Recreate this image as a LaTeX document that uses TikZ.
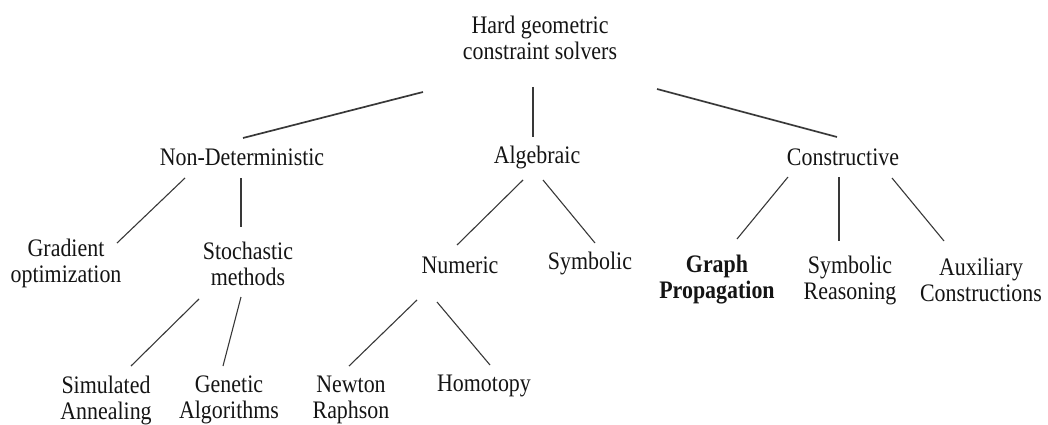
\documentclass[tikz,border=0pt]{standalone}
\usepackage{fontspec}
\setmainfont{Liberation Serif}[FakeStretch=0.87]
\definecolor{ink}{HTML}{141414}
\definecolor{edge}{HTML}{383838}
\tikzset{
  lbl/.style={inner sep=0pt, align=center, text=ink, font=\fontsize{25.2}{26}\selectfont},
  conn/.style={draw=edge, line width=1.1pt},
  thick conn/.style={draw=edge, line width=1.7pt},
}
\begin{document}
\begin{tikzpicture}[x=1pt,y=-1pt]
\useasboundingbox (0,0) rectangle (1048,425);
% nodes
\node[lbl] (root) at (540,37.5) {Hard geometric\\constraint solvers};
\node[lbl] (nd)   at (242,157) {Non-Deterministic};
\node[lbl] (alg)  at (537,157) {Algebraic};
\node[lbl] (con)  at (843,157) {Constructive};
\node[lbl] (grad) at (66,263.5) {Gradient\\optimization};
\node[lbl] (sto)  at (248,263.5) {Stochastic\\methods};
\node[lbl] (num)  at (460,265) {Numeric};
\node[lbl] (sym)  at (590,263) {Symbolic};
\node[lbl,font=\fontsize{25.2}{26}\selectfont\bfseries] (gp) at (717,279.5) {Graph\\Propagation};
\node[lbl] (sr)   at (850,280) {Symbolic\\Reasoning};
\node[lbl] (aux)  at (981,280) {Auxiliary\\Constructions};
\node[lbl] (sa)   at (106,400) {Simulated\\Annealing};
\node[lbl] (ga)   at (229,400) {Genetic\\Algorithms};
\node[lbl] (nr)   at (351,400) {Newton\\Raphson};
\node[lbl] (ho)   at (484,386) {Homotopy};
% connectors
\draw[thick conn] ([shift={(-117,54.5)}]root.center) -- ([shift={(1,-19)}]nd.center);
\draw[conn] ([shift={(-7,49.5)}]root.center) -- ([shift={(-4,-20)}]alg.center);
\draw[thick conn] ([shift={(117,51.5)}]root.center) -- ([shift={(-6,-20)}]con.center);
\draw[conn] ([shift={(-57,21)}]nd.center) -- ([shift={(51,-20.5)}]grad.center);
\draw[conn] ([shift={(-1,21)}]nd.center) -- ([shift={(-7,-36.5)}]sto.center);
\draw[conn] ([shift={(-14,23)}]alg.center) -- ([shift={(-3,-20)}]num.center);
\draw[conn] ([shift={(6,23)}]alg.center) -- ([shift={(5,-20)}]sym.center);
\draw[conn] ([shift={(-55,20)}]con.center) -- ([shift={(20,-40.5)}]gp.center);
\draw[conn] ([shift={(-4,20)}]con.center) -- ([shift={(-11,-39)}]sr.center);
\draw[conn] ([shift={(49,21)}]con.center) -- ([shift={(-37,-39)}]aux.center);
\draw[conn] ([shift={(-49,35.5)}]sto.center) -- ([shift={(25,-34)}]sa.center);
\draw[conn] ([shift={(-7,33.5)}]sto.center) -- ([shift={(-6,-34)}]ga.center);
\draw[conn] ([shift={(-43,35)}]num.center) -- ([shift={(-2,-34)}]nr.center);
\draw[conn] ([shift={(-23,37)}]num.center) -- ([shift={(6,-21)}]ho.center);
\end{tikzpicture}
\end{document}
